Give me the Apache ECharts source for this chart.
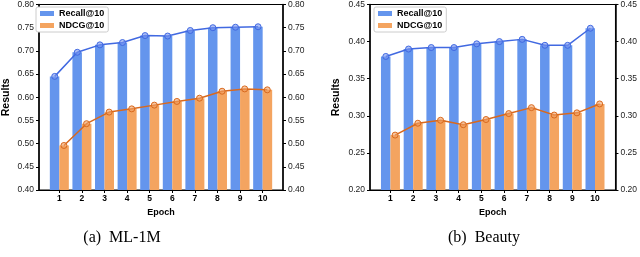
<!DOCTYPE html>
<html><head><meta charset="utf-8">
<script src="https://cdn.jsdelivr.net/npm/echarts@6/dist/echarts.min.js"></script>
<style>html,body{margin:0;padding:0;background:#fff}#c{width:640px;height:257px}</style>
</head><body><div id="c"></div>
<script>
// ---- data ----
const epochs = [1,2,3,4,5,6,7,8,9,10];
const seriesNames = ['Recall@10','NDCG@10'];
const ml1mRecall = [0.645,0.697,0.713,0.718,0.733,0.732,0.744,0.750,0.751,0.752];
const ml1mNdcg   = [0.496,0.543,0.568,0.575,0.583,0.591,0.598,0.613,0.618,0.616];
const beautyRecall = [0.380,0.390,0.392,0.392,0.397,0.400,0.403,0.395,0.395,0.418];
const beautyNdcg   = [0.274,0.290,0.294,0.288,0.295,0.303,0.311,0.301,0.304,0.316];
const ml1mTicks = [0.40,0.45,0.50,0.55,0.60,0.65,0.70,0.75,0.80];
const beautyTicks = [0.20,0.25,0.30,0.35,0.40,0.45];
const captions = ['(a)  ML-1M','(b)  Beauty'];
const xLabel = 'Epoch', yLabel = 'Results';

// ---- style / layout ----
const BAR_BLUE = '#6495ED', BAR_ORANGE = '#F4A460';
const LINE_BLUE = '#4169E1', LINE_ORANGE = '#D9691E';
const X_MIN = 0.1, X_MAX = 10.9;
const BAR_W = 9.5;
const grids = [
  {left:32, width:251, top:3, height:187, capX:122},
  {left:370, width:251, top:3, height:187, capX:484}
];
const chart = echarts.init(document.getElementById('c'), null, {renderer:'canvas'});

const option = {
  animation:false,
  grid: grids.map(g => ({left:g.left, width:g.width, top:g.top, height:g.height, show:true, borderColor:'#000', borderWidth:1, containLabel:false})),
  legend: [],
  xAxis: [], yAxis: [], series: [], graphic: []
};

const datasets = [
  {recall: ml1mRecall, ndcg: ml1mNdcg, ticks: ml1mTicks, nameGap:27},
  {recall: beautyRecall, ndcg: beautyNdcg, ticks: beautyTicks, nameGap:28}
];

datasets.forEach((d, i) => {
  const g = grids[i];
  const off = (BAR_W/2) / (g.width/(X_MAX-X_MIN));
  const step = +(d.ticks[1]-d.ticks[0]).toFixed(4);
  const ymin = d.ticks[0], ymax = d.ticks[d.ticks.length-1];
  option.xAxis.push({
    type:'value', gridIndex:i, min:X_MIN, max:X_MAX,
    name:xLabel, nameLocation:'middle', nameGap:17,
    nameTextStyle:{fontFamily:'Liberation Sans', fontWeight:'bold', fontSize:9, color:'#000'},
    axisLine:{show:true, lineStyle:{color:'#000', width:1.2}},
    axisTick:{show:true, customValues:epochs, length:3, lineStyle:{color:'#000'}},
    axisLabel:{customValues:epochs, fontFamily:'Liberation Sans', fontWeight:'bold', fontSize:8.5, color:'#000', margin:4},
    splitLine:{show:false}
  });
  const yCommon = {
    type:'value', gridIndex:i, min:ymin, max:ymax, interval:step,
    axisLine:{show:true, onZero:false, lineStyle:{color:'#000', width:1.5}},
    axisTick:{show:true, length:3, lineStyle:{color:'#000'}},
    axisLabel:{formatter:v => v.toFixed(2), fontFamily:'Liberation Sans', fontSize:8.5, color:'#222', margin:5},
    splitLine:{show:false}
  };
  option.yAxis.push(Object.assign({}, yCommon, {
    position:'left', name:yLabel, nameLocation:'middle', nameGap:d.nameGap,
    nameTextStyle:{fontFamily:'Liberation Sans', fontWeight:'bold', fontSize:10.5, color:'#000'}
  }));
  option.yAxis.push(Object.assign({}, yCommon, {position:'right'}));
  const xi = i, yi = i*2;
  option.series.push({
    name:seriesNames[0], type:'bar', xAxisIndex:xi, yAxisIndex:yi,
    data: epochs.map((e,k)=>[e, d.recall[k]]), barWidth:BAR_W, barGap:'0%',
    itemStyle:{color:BAR_BLUE}, z:2
  });
  option.series.push({
    name:seriesNames[1], type:'bar', xAxisIndex:xi, yAxisIndex:yi,
    data: epochs.map((e,k)=>[e, d.ndcg[k]]), barWidth:BAR_W, barGap:'0%',
    itemStyle:{color:BAR_ORANGE}, z:2
  });
  option.series.push({
    name:'recall-line-'+i, type:'line', xAxisIndex:xi, yAxisIndex:yi,
    data: epochs.map((e,k)=>[e-off, d.recall[k]]),
    symbol:'circle', symbolSize:6, lineStyle:{color:LINE_BLUE, width:1.5},
    itemStyle:{color:'rgba(120,150,240,0.6)', borderColor:LINE_BLUE, borderWidth:1}, z:3
  });
  option.series.push({
    name:'ndcg-line-'+i, type:'line', xAxisIndex:xi, yAxisIndex:yi,
    data: epochs.map((e,k)=>[e+off, d.ndcg[k]]),
    symbol:'circle', symbolSize:6, lineStyle:{color:LINE_ORANGE, width:1.5},
    itemStyle:{color:'rgba(240,160,100,0.6)', borderColor:LINE_ORANGE, borderWidth:1}, z:3
  });
  option.legend.push({
    data:seriesNames, left:g.left+4, top:7, orient:'vertical',
    itemWidth:14, itemHeight:5, itemGap:3, icon:'rect',
    backgroundColor:'#fff', borderColor:'#ccc', borderWidth:1, borderRadius:2,
    padding:[2,4,2,4],
    textStyle:{fontFamily:'Liberation Sans', fontWeight:'bold', fontSize:9, color:'#000', lineHeight:9}
  });
  option.graphic.push({
    type:'text', x:g.capX, y:238,
    style:{text:captions[i], font:'16px "Liberation Serif"', fill:'#000', textAlign:'center', textVerticalAlign:'middle'}
  });
});

chart.setOption(option);
</script></body></html>
